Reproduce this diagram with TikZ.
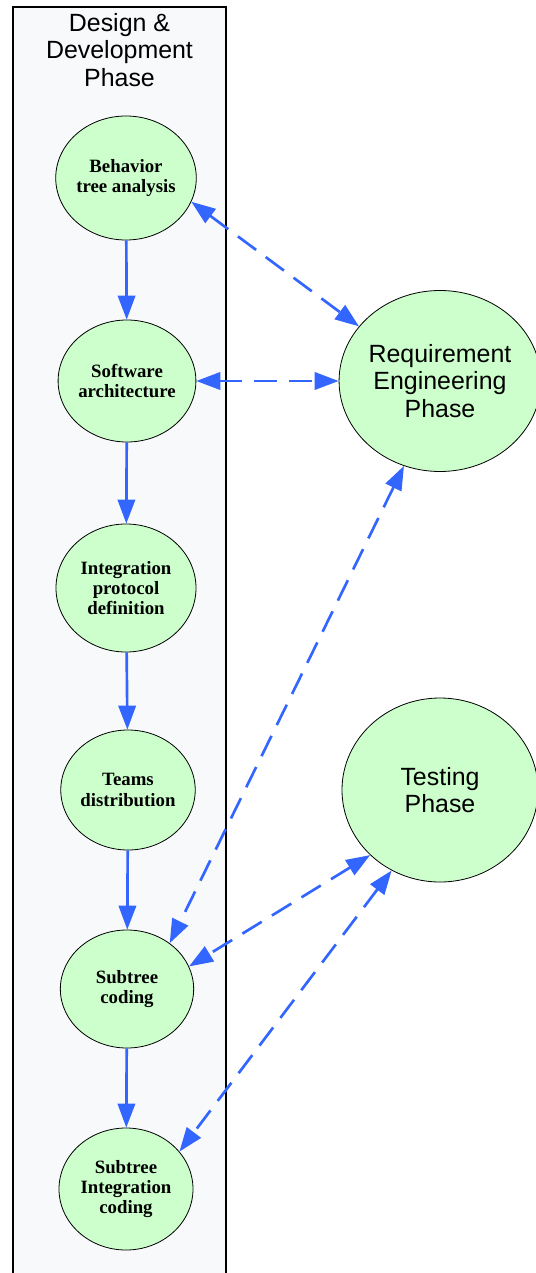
\documentclass[tikz,border=0pt]{standalone}
\usepackage{fontspec}
\setmainfont{Liberation Serif}
\newfontfamily\phasefont{Liberation Sans}
\usetikzlibrary{shapes.geometric,arrows.meta}
\definecolor{nodefill}{HTML}{CCFFCC}
\definecolor{flowblue}{HTML}{3366FF}
\definecolor{lanefill}{HTML}{F8F9FB}
\tikzset{
  taskbox/.style={ellipse, draw=black, line width=0.6pt, fill=nodefill, inner sep=0pt,
    align=center, font=\bfseries\fontsize{14.1}{15.3}\selectfont},
  phasebox/.style={ellipse, draw=black, line width=0.6pt, fill=nodefill, inner sep=0pt,
    align=center, font=\phasefont\fontsize{18.7}{20.4}\selectfont},
  flow/.style={draw=flowblue, line width=2pt, -{Triangle[length=18pt,width=13pt]}},
  link/.style={draw=flowblue, line width=2pt, dash pattern=on 17pt off 9pt,
    {Triangle[length=18pt,width=13pt]}-{Triangle[length=18pt,width=13pt]}},
}
\begin{document}
\begin{tikzpicture}[x=0.75pt,y=-0.75pt]
\useasboundingbox (0,0) rectangle (535,1273);
% swimlane
\fill[lanefill] (13,7) rectangle (226,1285);
\draw[line width=1.1pt] (13,1285) -- (13,7) -- (226,7) -- (226,1285);
\node[align=center, font=\phasefont\fontsize{18.7}{20.4}\selectfont] (lane) at (119.5,50) {Design \&\\Development\\Phase};
% tasks
\node[taskbox, minimum width=100.5pt, minimum height=93pt] (bta) at (126,178) {Behavior\\tree analysis};
\node[taskbox, minimum width=100.5pt, minimum height=91.5pt] (sa) at (127,381) {Software\\architecture};
\node[taskbox, minimum width=105pt, minimum height=96pt] (ipd) at (126,588) {Integration\\protocol\\definition};
\node[taskbox, minimum width=99pt, minimum height=90pt] (td) at (128,790) {Teams\\distribution};
\node[taskbox, minimum width=100pt, minimum height=88.5pt] (sc) at (127,989) {Subtree\\coding};
\node[taskbox, minimum width=100.5pt, minimum height=91.5pt] (sic) at (126,1189) {Subtree\\Integration\\coding};
% phases
\node[phasebox, minimum width=147.75pt, minimum height=135.75pt] (req) at (440,381) {Requirement\\Engineering\\Phase};
\node[phasebox, minimum width=147pt, minimum height=138pt] (test) at (440,790) {Testing\\Phase};
% solid flow
\draw[flow] (bta) -- (sa);
\draw[flow] (sa) -- (ipd);
\draw[flow] (ipd) -- (td);
\draw[flow] (td) -- (sc);
\draw[flow] (sc) -- (sic);
% dashed links
\draw[link] (bta.-20) -- (req.146);
\draw[link] (sa.east) -- (req.west);
\draw[link] (req.-113) -- (sc.47);
\draw[link] (test.-137) -- (sc.20);
\draw[link] (test.-121) -- (sic.35);
\end{tikzpicture}
\end{document}
